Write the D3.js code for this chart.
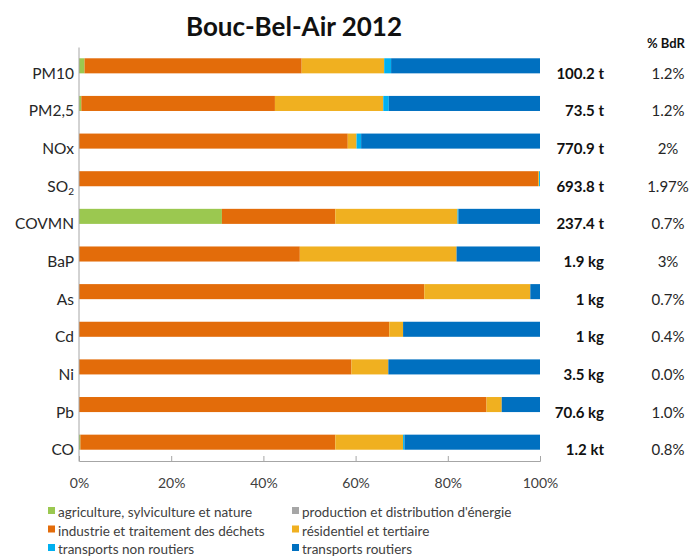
<!DOCTYPE html>
<html><head><meta charset="utf-8">
<script src="https://cdn.jsdelivr.net/npm/d3@7"></script>
<style>body{margin:0;background:#fff}svg{display:block}</style>
</head><body>
<script>
const title = "Bouc-Bel-Air 2012";
const categories = ["PM10","PM2,5","NOx","SO2","COVMN","BaP","As","Cd","Ni","Pb","CO"];
const seriesNames = ["agriculture, sylviculture et nature","production et distribution d'énergie","industrie et traitement des déchets","résidentiel et tertiaire","transports non routiers","transports routiers"];
const seriesColors = ["#9BC850","#A6A6A6","#E36C0A","#F0B020","#00B0F0","#0070C0"];
const agriculture = [1.2, 0.5, 0, 0, 31.0, 0, 0, 0, 0, 0, 0.3];
const energie     = [0, 0, 0, 0, 0, 0, 0, 0, 0, 0, 0];
const industrie   = [47.1, 42.0, 58.3, 99.6, 24.6, 47.9, 74.9, 67.3, 59.1, 88.4, 55.3];
const residentiel = [17.9, 23.5, 1.9, 0.2, 26.5, 34.0, 23.0, 3.0, 8.0, 3.3, 14.7];
const nonRoutiers = [1.5, 1.2, 1.0, 0.2, 0.2, 0, 0, 0, 0, 0, 0.3];
const routiers    = [32.3, 32.8, 38.8, 0, 17.7, 18.1, 2.1, 29.7, 32.9, 8.3, 29.4];
const totals = ["100.2 t","73.5 t","770.9 t","693.8 t","237.4 t","1.9 kg","1 kg","1 kg","3.5 kg","70.6 kg","1.2 kt"];
const pctBdR = ["1.2%","1.2%","2%","1.97%","0.7%","3%","0.7%","0.4%","0.0%","1.0%","0.8%"];
const xTicks = [0,20,40,60,80,100];

const W = 691, H = 556;
const font = "Lato, 'Open Sans', sans-serif";
const svg = d3.select("body").append("svg").attr("width", W).attr("height", H).style("font-family", font);

const x = d3.scaleLinear().domain([0,100]).range([79,540]);
const y = d3.scaleBand().domain(categories).range([47,461]).paddingInner(0.6).paddingOuter(0.3);

const series = [agriculture, energie, industrie, residentiel, nonRoutiers, routiers];
const rows = categories.map((c,i)=>{ const o={cat:c}; series.forEach((s,j)=>o["s"+j]=s[i]); return o; });
const stack = d3.stack().keys(series.map((_,j)=>"s"+j))(rows);

svg.append("g").selectAll("g").data(stack).join("g")
  .attr("fill",(d,j)=>seriesColors[j])
  .selectAll("rect").data(d=>d).join("rect")
  .attr("x", d=>x(d[0])).attr("width", d=>Math.max(0, x(d[1])-x(d[0])))
  .attr("y", d=>y(d.data.cat)).attr("height", y.bandwidth());

// axes
const axisColor = "#A6A6A6";
const xa = svg.append("g").attr("transform","translate(0,461)")
  .call(d3.axisBottom(x).tickValues(xTicks).tickSize(-5).tickPadding(14).tickFormat(d=>d+"%"));
xa.select(".domain").attr("stroke",axisColor);
xa.selectAll(".tick line").attr("stroke",axisColor);
xa.selectAll(".tick text").attr("fill","#404040").style("font-size","14px").style("font-family",font).attr("dy","0.95em");

const ya = svg.append("g").attr("transform","translate(78.5,0)")
  .call(d3.axisLeft(y).tickSize(0).tickPadding(5).tickFormat(""));
ya.select(".domain").attr("stroke",axisColor);

// category labels
const labels = svg.append("g").selectAll("text").data(categories).join("text")
  .attr("x",74).attr("y",d=>y(d)+y.bandwidth()/2+13)
  .attr("text-anchor","end").attr("fill","#262626").style("font-size","15.5px");
labels.each(function(d){
  const t=d3.select(this);
  if(d==="SO2"){ t.append("tspan").text("SO"); t.append("tspan").text("2").style("font-size","10px").attr("dy","3"); }
  else t.text(d);
});

// totals and %
svg.append("g").selectAll("text").data(totals).join("text")
  .attr("x",604).attr("y",(d,i)=>y(categories[i])+y.bandwidth()/2+13)
  .attr("text-anchor","end").attr("fill","#111").style("font-size","15px").style("font-weight","bold").text(d=>d);
svg.append("g").selectAll("text").data(pctBdR).join("text")
  .attr("x",668).attr("y",(d,i)=>y(categories[i])+y.bandwidth()/2+13)
  .attr("text-anchor","middle").attr("fill","#262626").style("font-size","15px").text(d=>d);
svg.append("text").attr("x",666).attr("y",48).attr("text-anchor","middle")
  .style("font-size","13px").style("font-weight","bold").attr("fill","#111").text("% BdR");

// title
svg.append("text").attr("x",294).attr("y",36).attr("text-anchor","middle")
  .style("font-size","26px").style("font-weight","bold").attr("fill","#111").text(title);

// legend
const leg = svg.append("g").selectAll("g").data(seriesNames).join("g")
  .attr("transform",(d,i)=>`translate(${i%2===0?48:292},${517 + Math.floor(i/2)*18.5})`);
leg.append("rect").attr("x",0).attr("y",-10).attr("width",7).attr("height",7).attr("fill",(d,i)=>seriesColors[i]);
leg.append("text").attr("x",10).attr("y",0).style("font-size","13.5px").attr("fill","#404040").text(d=>d);
</script>
</body></html>
